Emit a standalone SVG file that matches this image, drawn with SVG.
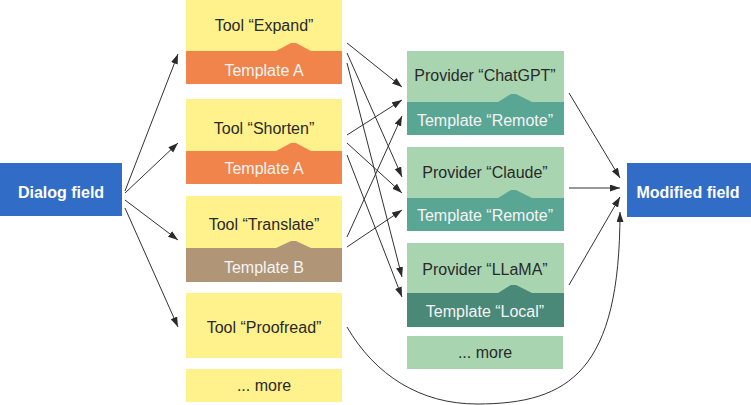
<svg xmlns="http://www.w3.org/2000/svg" width="751" height="405" viewBox="0 0 751 405">
<style>
text{font-family:"Liberation Sans",Arial,sans-serif;font-size:16px;text-anchor:middle}
.dk{fill:#2a2a2a}
.wt{fill:#f4f4f4}
.bold{font-weight:bold;fill:#ffffff}
.yel{fill:#fff18b}
.org{fill:#f0844a}
.brn{fill:#b09677}
.lg{fill:#a8d5b0}
.tl{fill:#5aa694}
.dt{fill:#4a8878}
.blue{fill:#316dc6}
.ln{fill:none;stroke:#333;stroke-width:1;marker-end:url(#ah)}
</style>
<defs>
<marker id="ah" markerUnits="userSpaceOnUse" markerWidth="11" markerHeight="8" refX="10" refY="3.5" orient="auto">
<path d="M0,0 L10,3.5 L0,7 z" fill="#2a2a2a"/>
</marker>
</defs>
<rect width="751" height="405" fill="#ffffff"/>

<g id="dialog-field">
<rect class="blue" x="0" y="163" width="122" height="53"/>
<text class="bold" x="61" y="198">Dialog field</text>
</g>

<g id="modified-field">
<rect class="blue" x="627" y="163" width="124" height="54"/>
<text class="bold" x="688" y="198">Modified field</text>
</g>

<g id="tool-expand">
<rect class="yel" x="186" y="0" width="156" height="51"/>
<polygon class="org" points="186,51 276,51 291,43 296,43 311,51 342,51 342,84 186,84"/>
<text class="dk" x="264" y="31">Tool “Expand”</text>
<text class="wt" x="264" y="76">Template A</text>
</g>

<g id="tool-shorten">
<rect class="yel" x="186" y="99" width="156" height="52"/>
<polygon class="org" points="186,151 276,151 291,143 296,143 311,151 342,151 342,184 186,184"/>
<text class="dk" x="264" y="134">Tool “Shorten”</text>
<text class="wt" x="264" y="174">Template A</text>
</g>

<g id="tool-translate">
<rect class="yel" x="186" y="196" width="156" height="52"/>
<polygon class="brn" points="186,248 276,248 291,241 296,241 311,248 342,248 342,282 186,282"/>
<text class="dk" x="264" y="230">Tool “Translate”</text>
<text class="wt" x="264" y="273">Template B</text>
</g>

<g id="tool-proofread">
<rect class="yel" x="186" y="293" width="156" height="65"/>
<text class="dk" x="264" y="333">Tool “Proofread”</text>
</g>

<g id="tool-more">
<rect class="yel" x="186" y="369" width="156" height="33"/>
<text class="dk" x="264" y="391">... more</text>
</g>

<g id="provider-chatgpt">
<rect class="lg" x="407" y="51" width="157" height="51"/>
<polygon class="tl" points="407,102 498,102 511,94 516,94 532,102 564,102 564,135 407,135"/>
<text class="dk" x="485" y="81">Provider “ChatGPT”</text>
<text class="wt" x="485" y="126">Template “Remote”</text>
</g>

<g id="provider-claude">
<rect class="lg" x="407" y="147" width="157" height="51"/>
<polygon class="tl" points="407,198 498,198 511,190 516,190 532,198 564,198 564,231 407,231"/>
<text class="dk" x="485" y="178">Provider “Claude”</text>
<text class="wt" x="485" y="221">Template “Remote”</text>
</g>

<g id="provider-llama">
<rect class="lg" x="407" y="243" width="157" height="50"/>
<polygon class="dt" points="407,293 498,293 511,285 516,285 532,293 564,293 564,327 407,327"/>
<text class="dk" x="485" y="275">Provider “LLaMA”</text>
<text class="wt" x="485" y="317">Template “Local”</text>
</g>

<g id="provider-more">
<rect class="lg" x="407" y="336" width="156" height="33"/>
<text class="dk" x="485" y="358">... more</text>
</g>

<g id="connectors">
<line class="ln" x1="125" y1="191" x2="178" y2="54"/>
<line class="ln" x1="125" y1="193" x2="178" y2="143"/>
<line class="ln" x1="125" y1="200" x2="178" y2="240"/>
<line class="ln" x1="125" y1="208" x2="178" y2="327"/>

<line class="ln" x1="347" y1="43" x2="402" y2="87"/>
<line class="ln" x1="347" y1="53" x2="402" y2="177"/>
<line class="ln" x1="347" y1="63" x2="402" y2="277"/>
<line class="ln" x1="347" y1="135" x2="402" y2="100"/>
<line class="ln" x1="347" y1="143" x2="402" y2="193"/>
<line class="ln" x1="347" y1="155" x2="402" y2="297"/>
<line class="ln" x1="347" y1="237" x2="402" y2="116"/>
<line class="ln" x1="347" y1="247" x2="402" y2="210"/>

<line class="ln" x1="569" y1="93" x2="620" y2="178"/>
<line class="ln" x1="569" y1="188" x2="620" y2="188"/>
<line class="ln" x1="569" y1="285" x2="620" y2="197"/>
<path class="ln" d="M347,327 C375,375 420,404 477,404 C570,404 620,370 620,212"/>
</g>
</svg>
